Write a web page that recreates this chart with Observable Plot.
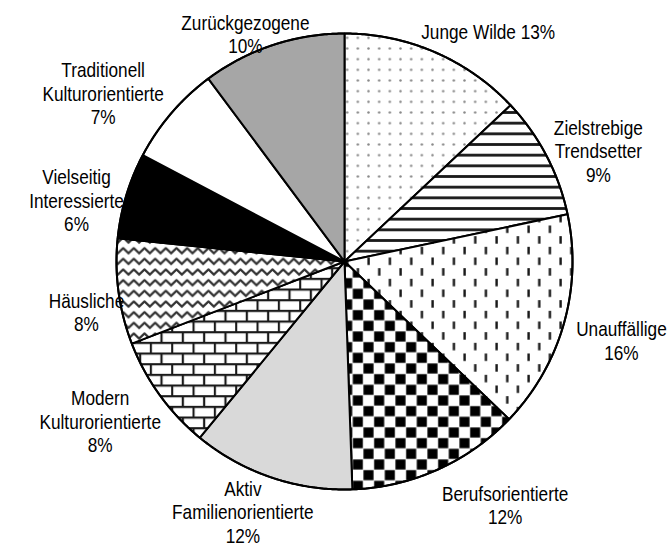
<!DOCTYPE html>
<html>
<head>
<meta charset="utf-8">
<script src="https://cdn.jsdelivr.net/npm/d3@7"></script>
<script src="https://cdn.jsdelivr.net/npm/@observablehq/plot@0.6"></script>
<style>
  html, body { margin: 0; padding: 0; background: #fff; }
</style>
</head>
<body>
<div id="chart"></div>
<script>
// ---- Data ----
const segments = [
  "Junge Wilde",
  "Zielstrebige\nTrendsetter",
  "Unauffällige",
  "Berufsorientierte",
  "Aktiv\nFamilienorientierte",
  "Modern\nKulturorientierte",
  "Häusliche",
  "Vielseitig\nInteressierte",
  "Traditionell\nKulturorientierte",
  "Zurückgezogene"
];
const shares = [13.0, 8.7, 15.5, 12.3, 11.5, 8.2, 7.5, 6.1, 7.1, 10.2];
const percentLabels = ["13%", "9%", "16%", "12%", "12%", "8%", "8%", "6%", "7%", "10%"];

// ---- Layout / style ----
const fills = ["url(#pDots)", "url(#pStripes)", "url(#pDashes)", "url(#pChecker)", "#d9d9d9",
               "url(#pBricks)", "url(#pZigzag)", "#000000", "#ffffff", "#a6a6a6"];
const labelSep = [" ", "\n", "\n", "\n", "\n", "\n", "\n", "\n", "\n", "\n"];
// label placement: angular nudge (deg) from slice mid-angle and radius (in pie radii)
const labelAngleNudge = [8.6, 4, 0, -9.3, 3.4, 2.7, -3.4, -3.9, -5.7, -5.2];
const labelRadius = [1.19, 1.215, 1.263, 1.28, 1.185, 1.28, 1.153, 1.206, 1.29, 1.088];

const total = d3.sum(shares);
let cum = 0;
const slicePolys = [];
const labelRows = [];
shares.forEach((v, i) => {
  const a0 = cum / total * 360;
  cum += v;
  const a1 = cum / total * 360;
  const pts = [{x: 0, y: 0}];
  const n = Math.max(2, Math.ceil((a1 - a0) / 0.5));
  for (let k = 0; k <= n; k++) {
    const a = (a0 + (a1 - a0) * k / n) * Math.PI / 180;
    pts.push({x: Math.sin(a), y: Math.cos(a)});
  }
  pts.push({x: 0, y: 0});
  slicePolys.push(pts);
  const am = ((a0 + a1) / 2 + labelAngleNudge[i]) * Math.PI / 180;
  labelRows.push({
    x: Math.sin(am) * labelRadius[i],
    y: Math.cos(am) * labelRadius[i],
    text: segments[i] + labelSep[i] + percentLabels[i]
  });
});

const circle = d3.range(0, 721).map(k => ({x: Math.sin(k * Math.PI / 360), y: Math.cos(k * Math.PI / 360)}));

const plot = Plot.plot({
  width: 670,
  height: 548,
  marginLeft: 116,
  marginRight: 98,
  marginTop: 33,
  marginBottom: 59,
  x: {domain: [-1, 1], axis: null},
  y: {domain: [-1, 1], axis: null},
  style: {background: "#fff", fontFamily: "'Liberation Sans', Arial, sans-serif", fontSize: "21px", color: "#000"},
  marks: [
    ...slicePolys.map((pts, i) => Plot.line(pts, {x: "x", y: "y", fill: fills[i], stroke: "#000", strokeWidth: 2, strokeLinejoin: "miter", curve: "linear"})),
    Plot.line(circle, {x: "x", y: "y", stroke: "#000", strokeWidth: 2, fill: "none"}),
    Plot.text(labelRows, {x: "x", y: "y", text: "text", fontSize: 21, lineHeight: 1.12, fill: "#000", textAnchor: "middle", className: "pie-label"})
  ]
});

// condense label glyphs horizontally (narrow face like Arial Narrow)
plot.querySelectorAll("text").forEach(t => {
  const tr = t.getAttribute("transform");
  if (tr) t.setAttribute("transform", tr + " scale(0.82,1)");
});

// pattern definitions
const ns = "http://www.w3.org/2000/svg";
const s = 32 / 3;
const defs = document.createElementNS(ns, "defs");
function pattern(id, w, h, inner) {
  const p = document.createElementNS(ns, "pattern");
  p.setAttribute("id", id);
  p.setAttribute("patternUnits", "userSpaceOnUse");
  p.setAttribute("width", w);
  p.setAttribute("height", h);
  p.innerHTML = `<rect width="${w}" height="${h}" fill="#fff"/>` + inner;
  defs.appendChild(p);
}
pattern("pDots", s, s, `<circle cx="${s/2}" cy="${s/2}" r="1.25" fill="#8a8a8a"/>`);
pattern("pStripes", s, s, `<rect x="0" y="${s/2 - 1.4}" width="${s}" height="2.8" fill="#1a1a1a"/>`);
pattern("pDashes", 2*s, 2*s, `<rect x="${s/2 - 1.1}" y="1" width="2.4" height="7.5" fill="#1a1a1a"/><rect x="${s*1.5 - 1.1}" y="${s + 1}" width="2.4" height="7.5" fill="#1a1a1a"/>`);
pattern("pChecker", 2*s, 2*s, `<rect x="0.3" y="0.3" width="${s-0.6}" height="${s-0.6}" fill="#000"/><rect x="${s+0.3}" y="${s+0.3}" width="${s-0.6}" height="${s-0.6}" fill="#000"/>`);
pattern("pBricks", 2*s, 2*s, `<path d="M0,1 H${2*s} M0,${s+1} H${2*s} M1,1 V${s+1} M${s+1},${s+1} V${2*s+1}" stroke="#1a1a1a" stroke-width="2.2" fill="none"/>`);
pattern("pZigzag", s, s, `<polyline points="-1,${s*0.78} ${s/2},${s*0.22} ${s+1},${s*0.78}" stroke="#333" stroke-width="2.2" fill="none" stroke-linejoin="round"/>`);
plot.insertBefore(defs, plot.firstChild);

document.getElementById("chart").appendChild(plot);
</script>
</body>
</html>
